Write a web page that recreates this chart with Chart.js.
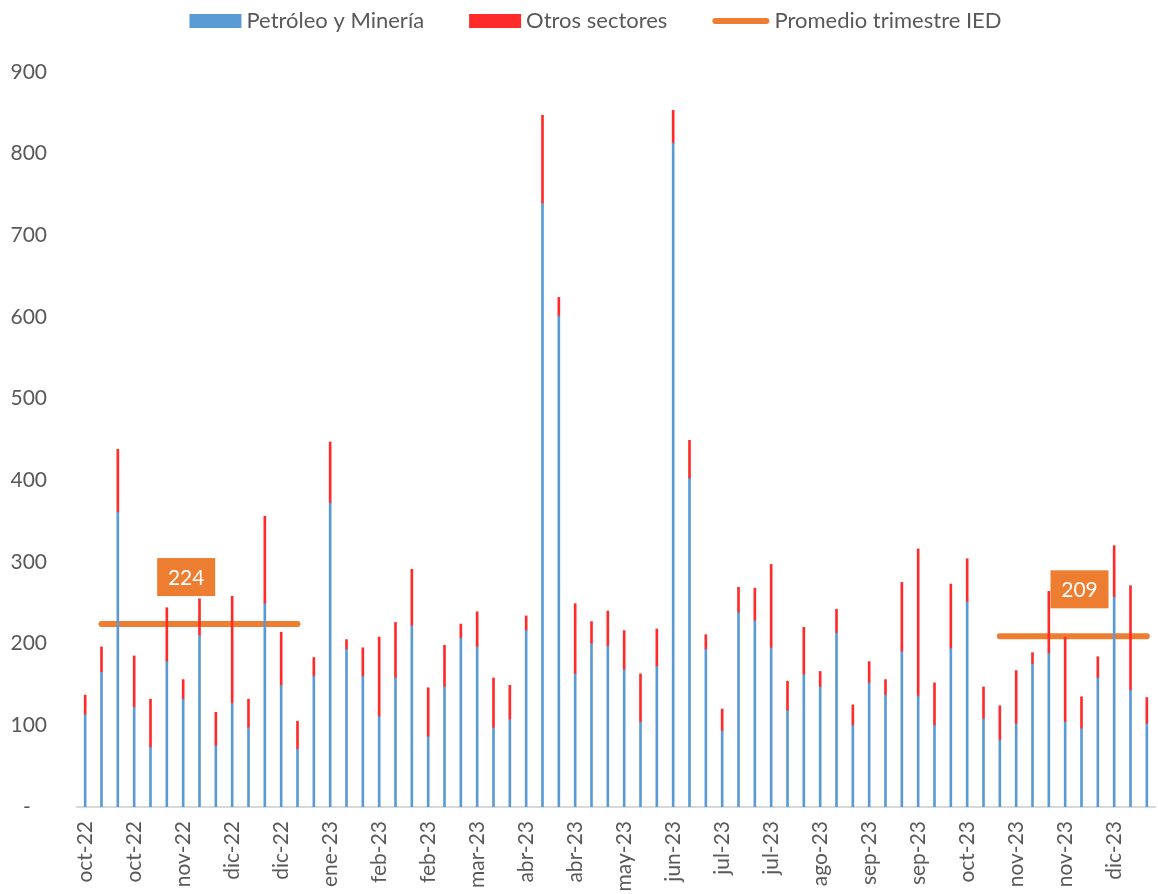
<!DOCTYPE html>
<html>
<head>
<meta charset="utf-8">
<script src="https://cdn.jsdelivr.net/npm/chart.js@4/dist/chart.umd.min.js"></script>
<style>html,body{margin:0;padding:0;background:#fff;}canvas{display:block;}</style>
</head>
<body>
<canvas id="c" width="1158" height="894"></canvas>
<script>
// ---- data ----
const categories = [
  'oct-22','oct-22','oct-22','oct-22','oct-22','nov-22',
  'nov-22','nov-22','nov-22','dic-22','dic-22','dic-22',
  'dic-22','dic-22','ene-23','ene-23','ene-23','ene-23',
  'feb-23','feb-23','feb-23','feb-23','mar-23','mar-23',
  'mar-23','mar-23','abr-23','abr-23','abr-23','abr-23',
  'abr-23','may-23','may-23','may-23','may-23','jun-23',
  'jun-23','jun-23','jun-23','jul-23','jul-23','jul-23',
  'jul-23','ago-23','ago-23','ago-23','ago-23','sep-23',
  'sep-23','sep-23','sep-23','sep-23','oct-23','oct-23',
  'oct-23','oct-23','nov-23','nov-23','nov-23','nov-23',
  'nov-23','dic-23','dic-23','dic-23','dic-23','dic-23'
];
const petroleoMineria = [
  113,165,361,122,73,178,132,210,75,127,97,249,149,71,160,
  372,193,160,111,158,222,86,147,207,196,97,107,216,739,601,
  163,200,197,168,104,172,813,402,193,93,238,228,195,118,162,
  147,213,100,152,137,190,136,100,194,251,108,82,102,175,188,
  104,96,158,257,143,102
];
const otrosSectores = [
  24,31,77,63,59,66,24,45,41,131,35,107,65,34,23,
  75,12,35,97,68,69,60,51,17,43,61,42,18,108,23,
  86,27,43,48,59,46,40,47,18,27,31,40,102,36,58,
  19,29,25,26,19,85,180,52,79,53,39,42,65,14,76,
  104,39,26,63,128,32
];
const promedioTrimestre = [
  null,224,224,224,224,224,224,224,224,224,224,224,224,224,null,
  null,null,null,null,null,null,null,null,null,null,null,null,null,null,null,
  null,null,null,null,null,null,null,null,null,null,null,null,null,null,null,
  null,null,null,null,null,null,null,null,null,null,null,209,209,209,209,
  209,209,209,209,209,209
];
const promedioLabelIndex = [6, 61];
const yTickValues = [0,100,200,300,400,500,600,700,800,900];
const seriesNames = ['Petróleo y Minería','Otros sectores','Promedio trimestre IED'];

// ---- styles ----
const FONT = "Lato, 'Open Sans', sans-serif";
const TEXT = '#595959';
const BLUE = '#5B9BD5', RED = '#FF2B2B', ORANGE = '#ED7D31';
const LABEL_DX = [3, -2];

const customLegend = {
  id: 'customLegend',
  afterDraw(chart) {
    const ctx = chart.ctx;
    ctx.save();
    ctx.font = '22px ' + FONT;
    ctx.textBaseline = 'middle';
    const items = chart.data.datasets.map(ds => ({
      text: ds.label, line: ds.type === 'line',
      color: ds.type === 'line' ? ds.borderColor : ds.backgroundColor
    }));
    const sw = it => (it.line ? 57 : 52) + 5 + ctx.measureText(it.text).width;
    let total = 0;
    items.forEach((it, i) => { total += sw(it) + (i < items.length - 1 ? 45 : 0); });
    let x = 595.5 - total / 2;
    const y = 21;
    items.forEach(it => {
      if (it.line) {
        ctx.strokeStyle = it.color; ctx.lineWidth = 6; ctx.lineCap = 'round';
        ctx.beginPath(); ctx.moveTo(x + 3, y); ctx.lineTo(x + 54, y); ctx.stroke();
        x += 57;
      } else {
        ctx.fillStyle = it.color; ctx.fillRect(x, y - 7, 52, 14);
        x += 52;
      }
      x += 5;
      ctx.fillStyle = TEXT;
      ctx.fillText(it.text, x, y);
      x += ctx.measureText(it.text).width + 45;
    });
    ctx.restore();
  }
};

const avgLabels = {
  id: 'avgLabels',
  afterDatasetsDraw(chart) {
    const ctx = chart.ctx, xs = chart.scales.x, ys = chart.scales.y;
    ctx.save();
    ctx.font = '21px ' + FONT;
    ctx.textAlign = 'center';
    ctx.textBaseline = 'middle';
    promedioLabelIndex.forEach((idx, k) => {
      const v = promedioTrimestre[idx];
      const cx = xs.getPixelForValue(idx) + LABEL_DX[k];
      const cy = ys.getPixelForValue(v) - 47;
      ctx.fillStyle = ORANGE;
      ctx.fillRect(cx - 29, cy - 19, 58, 38);
      ctx.fillStyle = '#FFFFFF';
      ctx.fillText(String(v), cx, cy + 1);
    });
    ctx.restore();
  }
};

Chart.defaults.font.family = FONT;
Chart.defaults.color = TEXT;

new Chart(document.getElementById('c'), {
  type: 'bar',
  data: {
    labels: categories,
    datasets: [
      { label: seriesNames[0], data: petroleoMineria, backgroundColor: BLUE, barThickness: 2, borderWidth: 0, order: 1 },
      { label: seriesNames[1], data: otrosSectores, backgroundColor: RED, barThickness: 2, borderWidth: 0, order: 1 },
      { type: 'line', label: seriesNames[2], data: promedioTrimestre, borderColor: ORANGE, backgroundColor: ORANGE,
        borderWidth: 6, borderCapStyle: 'round', pointRadius: 0, spanGaps: false, fill: false, tension: 0, order: 2 }
    ]
  },
  options: {
    responsive: false,
    animation: false,
    layout: { padding: { top: 72, left: 11, right: 3, bottom: 0 } },
    plugins: { legend: { display: false }, tooltip: { enabled: false } },
    scales: {
      x: {
        stacked: true,
        grid: { display: false, drawTicks: false },
        border: { display: true, color: '#D9D9D9', width: 2 },
        ticks: {
          autoSkip: false, minRotation: 90, maxRotation: 90, padding: 14,
          font: { size: 21 }, color: TEXT,
          callback: (v, i) => (i % 3 === 0 ? categories[i] : '')
        },
        afterFit: s => { s.height = 87; s.paddingLeft = 0; s.paddingRight = 0; }
      },
      y: {
        stacked: true, min: 0, max: 900,
        grid: { display: false, drawTicks: false },
        border: { display: false },
        afterBuildTicks: s => { s.ticks = yTickValues.map(v => ({ value: v })); },
        ticks: {
          padding: 30, font: { size: 21 }, color: TEXT,
          callback: v => (v === 0 ? '-   ' : String(v))
        },
        afterFit: s => { s.width = 66; s.paddingTop = 0; s.paddingBottom = 0; }
      }
    }
  },
  plugins: [customLegend, avgLabels]
});
</script>
</body>
</html>
